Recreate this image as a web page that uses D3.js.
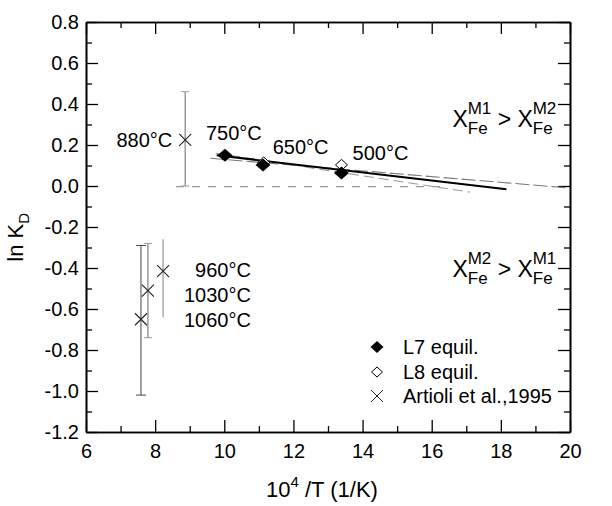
<!DOCTYPE html>
<html>
<head>
<meta charset="utf-8">
<script src="https://cdn.jsdelivr.net/npm/d3@7"></script>
<style>
  body { margin: 0; background: #fff; }
  svg { font-family: "Liberation Sans", Arial, sans-serif; }
  .axis path, .axis line { stroke: #000; }
  .axis text { font-size: 20px; fill: #000; }
</style>
</head>
<body>
<div id="chart"></div>
<script>
var margin = {top: 22, right: 42, bottom: 74, left: 86},
    width = 612 - margin.left - margin.right,
    height = 506 - margin.top - margin.bottom;

// L7 / L8 equilibration runs (10^4/T, ln KD)
var l7X = [10.02, 11.12, 13.39];
var l7Y = [0.150, 0.102, 0.063];
var l8X = [11.14, 13.39];
var l8Y = [0.115, 0.103];

// Artioli et al. 1995 points with error bars
var artX   = [8.87, 8.23, 7.79, 7.59];
var artY   = [0.225, -0.415, -0.51, -0.65];
var artLo  = [0.0, -0.64, -0.74, -1.02];
var artHi  = [0.46, -0.26, -0.28, -0.29];

// fitted trend lines, [x1, x2] and [y1, y2]
var fitL7X = [9.78, 18.16],  fitL7Y = [0.150, -0.016];
var fitL8X = [9.6, 20.0],    fitL8Y = [0.135, -0.010];
var fitAllX = [9.75, 17.1],  fitAllY = [0.160, -0.030];
var zeroX = [8.6, 16.4],     zeroY = [-0.003, -0.003];

var tempLabels = ["880°C", "750°C", "650°C", "500°C", "960°C", "1030°C", "1060°C"];
var legendLabels = ["L7 equil.", "L8 equil.", "Artioli et al.,1995"];

var x = d3.scaleLinear().domain([6, 20]).range([0, width]);
var y = d3.scaleLinear().domain([-1.2, 0.8]).range([height, 0]);

var svg = d3.select("#chart").append("svg")
    .attr("width", width + margin.left + margin.right)
    .attr("height", height + margin.top + margin.bottom)
    .append("g")
    .attr("transform", "translate(" + margin.left + "," + margin.top + ")");

var majorX = d3.range(6, 20.01, 2),
    minorX = d3.range(7, 20, 2),
    majorY = d3.range(-1.2, 0.81, 0.2).map(function(v) { return +v.toFixed(1); }),
    minorY = d3.range(-1.1, 0.8, 0.2).map(function(v) { return +v.toFixed(1); });

// AXES (ticks inward on all four sides)

svg.append("g").attr("class", "axis")
    .attr("transform", "translate(0," + height + ")")
    .call(d3.axisBottom(x).tickValues(majorX).tickSize(-12).tickSizeOuter(0).tickPadding(12).tickFormat(d3.format("d")));
svg.append("g").attr("class", "axis")
    .attr("transform", "translate(0," + height + ")")
    .call(d3.axisBottom(x).tickValues(minorX).tickSize(-6).tickSizeOuter(0).tickFormat(""));
svg.append("g").attr("class", "axis")
    .call(d3.axisTop(x).tickValues(majorX).tickSize(-12).tickSizeOuter(0).tickFormat(""));
svg.append("g").attr("class", "axis")
    .call(d3.axisTop(x).tickValues(minorX).tickSize(-6).tickSizeOuter(0).tickFormat(""));

svg.append("g").attr("class", "axis")
    .call(d3.axisLeft(y).tickValues(majorY).tickSize(-12).tickSizeOuter(0).tickPadding(7).tickFormat(d3.format(".1f")));
svg.append("g").attr("class", "axis")
    .call(d3.axisLeft(y).tickValues(minorY).tickSize(-6).tickSizeOuter(0).tickFormat(""));
svg.append("g").attr("class", "axis")
    .attr("transform", "translate(" + width + ",0)")
    .call(d3.axisRight(y).tickValues(majorY).tickSize(-12).tickSizeOuter(0).tickFormat(""));
svg.append("g").attr("class", "axis")
    .attr("transform", "translate(" + width + ",0)")
    .call(d3.axisRight(y).tickValues(minorY).tickSize(-6).tickSizeOuter(0).tickFormat(""));

svg.selectAll(".axis path").attr("stroke-width", 1.6);
svg.selectAll(".axis line").attr("stroke-width", 1.3);
svg.selectAll(".axis text").text(function() {
    return d3.select(this).text().replace("−", "-");
});

// AXIS LABELS

var xt = svg.append("text")
    .attr("x", width / 2 - 6)
    .attr("y", height + 65)
    .attr("text-anchor", "middle")
    .style("font-size", "22px");
xt.append("tspan").text("10");
xt.append("tspan").attr("dy", -10).style("font-size", "15px").text("4");
xt.append("tspan").attr("dy", 10).text(" /T (1/K)");

var yt = svg.append("text")
    .attr("transform", "translate(-63," + (y(-0.25)) + ") rotate(-90)")
    .attr("text-anchor", "middle")
    .style("font-size", "22px");
yt.append("tspan").text("ln K");
yt.append("tspan").attr("dy", 6).style("font-size", "15px").text("D");

// FIT LINES

var line = d3.line()
    .x(function(d) { return x(d[0]); })
    .y(function(d) { return y(d[1]); });

function pts(xs, ys) { return xs.map(function(v, i) { return [v, ys[i]]; }); }

svg.append("path").attr("d", line(pts(zeroX, zeroY)))
    .attr("fill", "none").attr("stroke", "#999").attr("stroke-width", 1.2).attr("stroke-dasharray", "8,8");
svg.append("path").attr("d", line(pts(fitL8X, fitL8Y)))
    .attr("fill", "none").attr("stroke", "#777").attr("stroke-width", 1.1).attr("stroke-dasharray", "14,4");
svg.append("path").attr("d", line(pts(fitAllX, fitAllY)))
    .attr("fill", "none").attr("stroke", "#999").attr("stroke-width", 1.1).attr("stroke-dasharray", "10,5");
svg.append("path").attr("d", line(pts(fitL7X, fitL7Y)))
    .attr("fill", "none").attr("stroke", "#000").attr("stroke-width", 2);

// ERROR BARS + CROSSES

var barColor = ["#999", "#aaa", "#999", "#444"];
var capW = [4, 0, 4, 5];

artX.forEach(function(xv, i) {
    var g = svg.append("g");
    g.append("line")
        .attr("x1", x(xv)).attr("x2", x(xv))
        .attr("y1", y(artLo[i])).attr("y2", y(artHi[i]))
        .attr("stroke", barColor[i]).attr("stroke-width", i == 3 ? 1 : 1.5);
    if (capW[i] > 0) {
        [artLo[i], artHi[i]].forEach(function(v) {
            g.append("line")
                .attr("x1", x(xv) - capW[i]).attr("x2", x(xv) + capW[i])
                .attr("y1", y(v)).attr("y2", y(v))
                .attr("stroke", barColor[i]).attr("stroke-width", 1);
        });
    }
    g.append("path")
        .attr("transform", "translate(" + x(xv) + "," + y(artY[i]) + ")")
        .attr("d", "M-6,-6L6,6M-6,6L6,-6")
        .attr("stroke", "#222").attr("stroke-width", 1.1).attr("fill", "none");
});

// DIAMONDS

var diamond = function(rx, ry) { return "M0," + (-ry) + "L" + rx + ",0L0," + ry + "L" + (-rx) + ",0Z"; };

svg.selectAll(".l8")
    .data(pts(l8X, l8Y))
    .enter().append("path")
    .attr("class", "l8")
    .attr("transform", function(d) { return "translate(" + x(d[0]) + "," + y(d[1]) + ")"; })
    .attr("d", diamond(6, 5.5))
    .attr("fill", "#fff").attr("stroke", "#000").attr("stroke-width", 1);

svg.selectAll(".l7")
    .data(pts(l7X, l7Y))
    .enter().append("path")
    .attr("class", "l7")
    .attr("transform", function(d) { return "translate(" + x(d[0]) + "," + y(d[1]) + ")"; })
    .attr("d", diamond(7.5, 6.5))
    .attr("fill", "#000");

// TEMPERATURE LABELS

var tl = svg.append("g").style("font-size", "20px");
tl.append("text").attr("x", x(8.87) - 13).attr("y", y(0.225) + 7).attr("text-anchor", "end").text(tempLabels[0]);
tl.append("text").attr("x", x(9.47)).attr("y", y(0.258) + 7).text(tempLabels[1]);
tl.append("text").attr("x", x(11.4)).attr("y", y(0.192) + 7).text(tempLabels[2]);
tl.append("text").attr("x", x(13.71)).attr("y", y(0.16) + 7).text(tempLabels[3]);
[-0.41, -0.532, -0.655].forEach(function(v, i) {
    tl.append("text").attr("x", x(10.77)).attr("y", y(v) + 7).attr("text-anchor", "end").text(tempLabels[4 + i]);
});

// SITE PREFERENCE NOTES

function siteNote(tx, ty, a, b) {
    var t = svg.append("text").attr("x", tx).attr("y", ty).style("font-size", "23px");
    t.append("tspan").text("X");
    t.append("tspan").attr("dy", 7).style("font-size", "17px").text("Fe");
    t.append("tspan").attr("dx", -20).attr("dy", -20).style("font-size", "17px").text(a);
    t.append("tspan").attr("dy", 13).text(" > X");
    t.append("tspan").attr("dy", 7).style("font-size", "17px").text("Fe");
    t.append("tspan").attr("dx", -20).attr("dy", -20).style("font-size", "17px").text(b);
}
siteNote(x(16.6), y(0.29), "M1", "M2");
siteNote(x(16.6), y(-0.445), "M2", "M1");

// LEGEND

var legend = svg.append("g").attr("transform", "translate(" + (377 - margin.left) + "," + (347 - margin.top) + ")");
legend.append("path").attr("d", diamond(6.5, 6)).attr("fill", "#000");
legend.append("path").attr("transform", "translate(0,25)").attr("d", diamond(5.5, 5)).attr("fill", "#fff").attr("stroke", "#000");
legend.append("path").attr("transform", "translate(0,49)").attr("d", "M-6,-6L6,6M-6,6L6,-6").attr("stroke", "#222").attr("fill", "none");
legendLabels.forEach(function(s, i) {
    legend.append("text").attr("x", 26).attr("y", [0, 25, 49][i] + 7).style("font-size", "20px").text(s);
});
</script>
</body>
</html>
